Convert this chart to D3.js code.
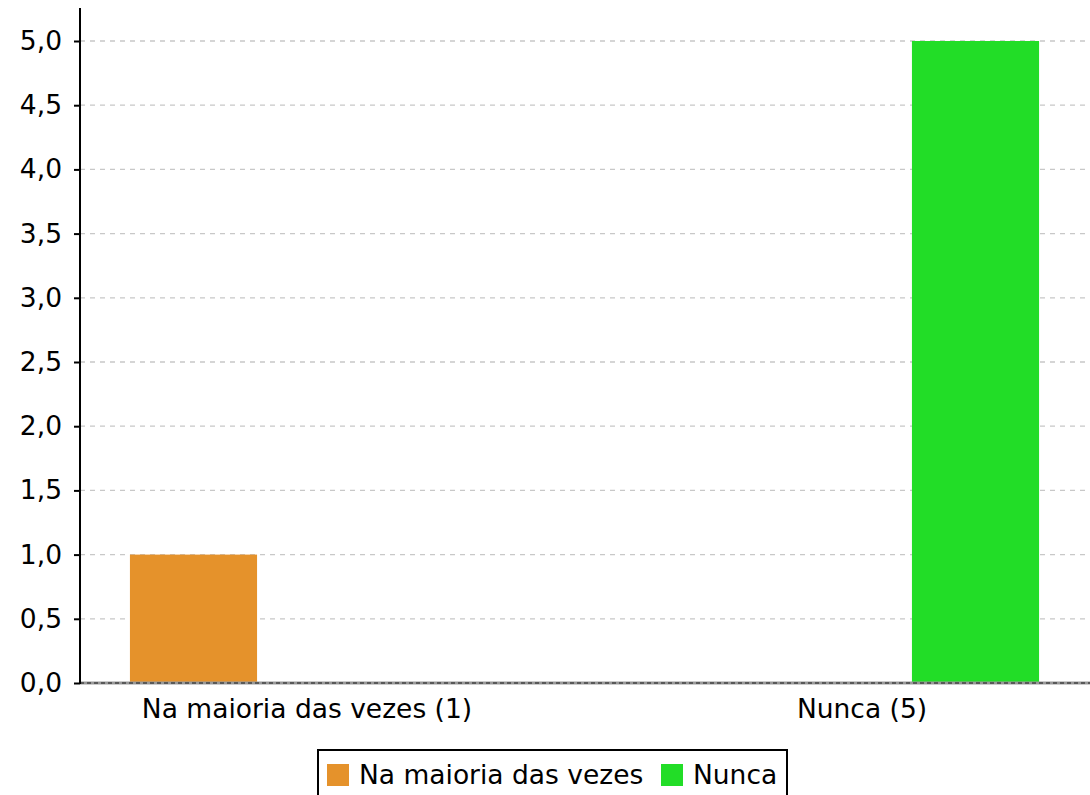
<!DOCTYPE html>
<html><head><meta charset="utf-8">
<script src="https://cdn.jsdelivr.net/npm/d3@7"></script>
<style>body{margin:0;background:#fff}svg{display:block;font-family:"DejaVu Sans",sans-serif}</style>
</head><body><svg id="c" width="1090" height="795"></svg>
<script>
const categories = ["Na maioria das vezes (1)", "Nunca (5)"];
const seriesNames = ["Na maioria das vezes", "Nunca"];
const seriesValues = [[1, 0], [0, 5]];
const seriesColors = ["#e5922b", "#22dd27"];
const yTicks = [0, 0.5, 1, 1.5, 2, 2.5, 3, 3.5, 4, 4.5, 5];

(function () {
const svg = d3.select("#c");
const FS = 26.5;
const mLeft = 80, mRight = 1089, mTop = 8, mBottom = 683;
const y = d3.scaleLinear().domain([0, 5]).range([mBottom, 41]);
const x0 = d3.scaleBand().domain(categories).range([mLeft, mRight]).paddingInner(0.182).paddingOuter(0);
const x1 = d3.scaleBand().domain(d3.range(seriesNames.length)).range([0, x0.bandwidth()]);
const barFrac = 0.56;
const fmt = v => d3.format(".1f")(v).replace(".", ",");

// grid
svg.append("g").selectAll("line").data(yTicks.filter(d => d > 0)).join("line")
  .attr("x1", mLeft).attr("x2", 1090).attr("y1", d => y(d)).attr("y2", d => y(d))
  .attr("stroke", "#c8c8c8").attr("stroke-width", 1.3).attr("stroke-dasharray", "5,5");

// bars
seriesNames.forEach((s, si) => {
  svg.append("g").selectAll("rect").data(categories.map((c, ci) => ({c, v: seriesValues[si][ci]})).filter(d => d.v > 0))
    .join("rect")
    .attr("x", d => x0(d.c) + x1(si) + x1.bandwidth() * (1 - barFrac) / 2)
    .attr("width", x1.bandwidth() * barFrac)
    .attr("y", d => y(d.v)).attr("height", d => y(0) - y(d.v))
    .attr("fill", seriesColors[si]);
});

// baseline
svg.append("line").attr("x1", mLeft).attr("x2", 1090).attr("y1", y(0)).attr("y2", y(0))
  .attr("stroke", "#999").attr("stroke-width", 3);
svg.append("line").attr("x1", mLeft).attr("x2", 1090).attr("y1", y(0)).attr("y2", y(0))
  .attr("stroke", "#444").attr("stroke-width", 1.3).attr("stroke-dasharray", "4,3");

// y axis
const yAxis = d3.axisLeft(y).tickValues(yTicks).tickFormat(fmt).tickSize(6).tickSizeOuter(0);
const ya = svg.append("g").attr("transform", `translate(${mLeft},0)`).call(yAxis);
ya.select(".domain").remove();
ya.selectAll(".tick line").attr("stroke", "#000").attr("stroke-width", 2);
ya.selectAll(".tick text").attr("font-size", FS).attr("font-family", "DejaVu Sans").attr("fill", "#000").attr("x", -18);
svg.append("line").attr("x1", mLeft).attr("x2", mLeft).attr("y1", mTop).attr("y2", mBottom + 1)
  .attr("stroke", "#000").attr("stroke-width", 2);

// x labels
const xAxis = d3.axisBottom(x0).tickSize(0);
const xa = svg.append("g").attr("transform", `translate(0,${mBottom})`).call(xAxis);
xa.select(".domain").remove();
xa.selectAll(".tick text").attr("font-size", FS).attr("font-family", "DejaVu Sans").attr("fill", "#000")
  .attr("y", 0).attr("dy", 0).attr("transform", "translate(0,35)");

// legend
const lg = svg.append("g");
lg.append("rect").attr("x", 318).attr("y", 750).attr("width", 469).attr("height", 60)
  .attr("fill", "#fff").attr("stroke", "#000").attr("stroke-width", 2);
const legX = [327, 661];
seriesNames.forEach((s, i) => {
  lg.append("rect").attr("x", legX[i]).attr("y", 764).attr("width", 22).attr("height", 22).attr("fill", seriesColors[i]);
  lg.append("text").attr("x", legX[i] + 32).attr("y", 784).attr("font-size", FS).attr("fill", "#000").text(s);
});
})();
</script></body></html>
